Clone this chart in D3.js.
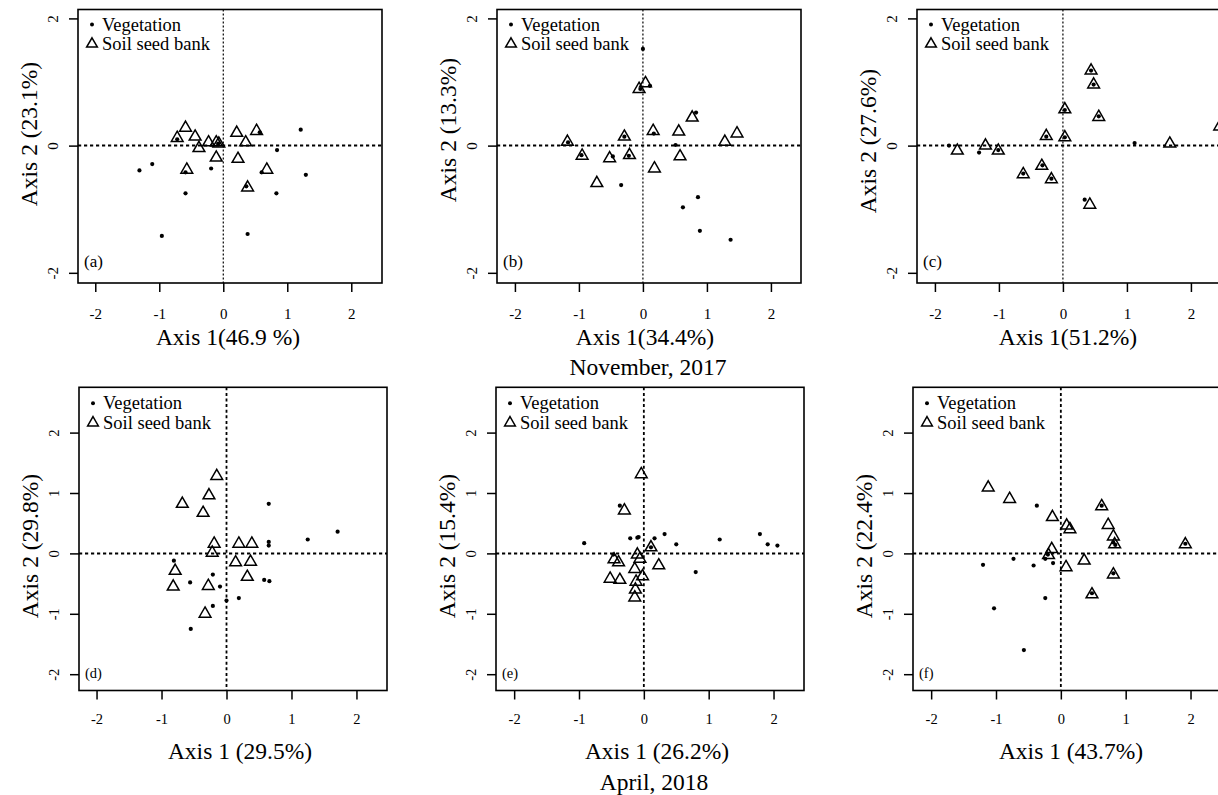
<!DOCTYPE html>
<html>
<head>
<meta charset="utf-8">
<script src="https://cdn.jsdelivr.net/npm/d3@7"></script>
<style>
html,body{margin:0;padding:0;background:#fff;}
svg{display:block;}
</style>
</head>
<body>
<svg id="chart" width="1218" height="795"></svg>
<script>
// ---------------- data ----------------
const vegA  = [[1.21,0.25],[0.84,-0.07],[1.29,-0.46],[0.60,-0.42],[0.83,-0.75],[0.36,-0.64],[0.38,-1.39],[-0.96,-1.42],[-1.31,-0.39],[-1.11,-0.29],[-0.59,-0.75],[-0.59,-0.42],[-0.19,-0.36],[-0.72,0.10],[0.57,0.21],[-0.08,0.03]];
const seedA = [[-0.59,0.28],[-0.72,0.12],[-0.44,0.14],[-0.38,-0.04],[-0.23,0.05],[-0.11,0.05],[-0.07,0.03],[-0.11,-0.19],[0.21,0.20],[0.52,0.23],[0.35,0.05],[0.23,-0.21],[0.68,-0.38],[0.38,-0.66],[-0.57,-0.38]];

const vegB  = [[0.0,1.52],[0.11,0.94],[0.83,0.52],[0.51,0.01],[0.86,-0.81],[0.625,-0.97],[0.89,-1.34],[1.37,-1.48],[-0.34,-0.62],[-0.47,-0.17],[-0.96,-0.15],[-1.17,0.05],[-0.29,0.14],[-0.22,-0.16],[0.17,0.19],[-0.04,0.89]];
const seedB = [[-1.18,0.06],[-0.95,-0.16],[-0.52,-0.20],[-0.72,-0.59],[-0.29,0.14],[-0.21,-0.15],[-0.06,0.89],[0.04,0.98],[0.16,0.23],[0.18,-0.36],[0.56,0.22],[0.58,-0.17],[0.77,0.44],[1.28,0.06],[1.47,0.19]];

const vegC  = [[-1.78,0.0],[-1.31,-0.11],[-1.01,-0.07],[1.12,0.04],[0.34,-0.85],[0.44,1.18],[0.48,0.96],[0.56,0.46],[0.03,0.56],[0.03,0.13],[-0.26,0.14],[-0.32,-0.31],[-0.62,-0.44],[-0.18,-0.52],[2.46,0.31]];
const seedC = [[-1.65,-0.08],[-1.21,0.0],[-1.01,-0.08],[-0.62,-0.45],[-0.33,-0.32],[-0.18,-0.53],[-0.26,0.15],[0.03,0.13],[0.03,0.57],[0.44,1.18],[0.48,0.96],[0.56,0.45],[0.42,-0.93],[1.67,0.03],[2.45,0.30]];

const vegD  = [[0.65,0.82],[0.65,0.19],[0.65,0.13],[1.25,0.23],[1.71,0.36],[0.58,-0.44],[0.66,-0.46],[0.19,-0.74],[0.0,-0.78],[-0.21,-0.87],[-0.10,-0.55],[-0.21,-0.35],[-0.56,-0.48],[-0.81,-0.12],[-0.55,-1.25]];
const seedD = [[-0.15,1.28],[-0.27,0.96],[-0.68,0.82],[-0.36,0.67],[-0.19,0.16],[-0.22,0.01],[0.19,0.16],[0.39,0.16],[0.14,-0.15],[0.37,-0.14],[0.32,-0.39],[-0.79,-0.29],[-0.82,-0.55],[-0.28,-0.54],[-0.33,-1.0]];

const vegE  = [[-0.92,0.17],[-0.21,0.25],[-0.10,0.26],[-0.08,0.27],[0.165,0.25],[0.32,0.32],[0.50,0.15],[1.17,0.23],[1.79,0.32],[1.91,0.15],[2.06,0.13],[0.80,-0.31],[-0.37,0.79],[-0.47,-0.02],[0.11,0.10]];
const seedE = [[-0.04,1.31],[-0.30,0.71],[-0.46,-0.10],[-0.39,-0.15],[-0.52,-0.42],[-0.37,-0.44],[-0.10,-0.02],[-0.06,-0.09],[0.11,0.10],[0.23,-0.20],[-0.14,-0.26],[-0.02,-0.38],[-0.12,-0.47],[-0.13,-0.60],[-0.14,-0.73]];

const vegF  = [[-0.37,0.79],[-1.20,-0.19],[-0.73,-0.09],[-0.42,-0.20],[-0.24,-0.09],[-0.12,-0.16],[-0.24,-0.74],[-1.03,-0.91],[-0.57,-1.60],[-0.20,-0.02],[0.63,0.79],[0.81,0.18],[0.84,0.14],[0.48,-0.66],[0.81,-0.33],[1.92,0.16]];
const seedF = [[-1.12,1.09],[-0.79,0.90],[-0.13,0.60],[-0.14,0.07],[-0.19,-0.03],[0.09,0.46],[0.14,0.40],[0.08,-0.23],[0.36,-0.12],[0.63,0.78],[0.73,0.47],[0.81,0.28],[0.83,0.15],[0.81,-0.35],[0.48,-0.68],[1.92,0.15]];

const xTitles = ["Axis 1(46.9 %)","Axis 1(34.4%)","Axis 1(51.2%)","Axis 1 (29.5%)","Axis 1 (26.2%)","Axis 1 (43.7%)"];
const yTitles = ["Axis 2 (23.1%)","Axis 2 (13.3%)","Axis 2 (27.6%)","Axis 2 (29.8%)","Axis 2 (15.4%)","Axis 2 (22.4%)"];
const panelLetters = ["(a)","(b)","(c)","(d)","(e)","(f)"];
const legendLabels = ["Vegetation","Soil seed bank"];
const captions = ["November, 2017","April, 2018"];
const xTicks = [-2,-1,0,1,2];
const yTicksTop = [-2,0,2];
const yTicksBottom = [-2,-1,0,1,2];

// ---------------- layout ----------------
const FONT = "'Liberation Serif','Times New Roman',Times,serif";
const svg = d3.select("#chart");
svg.append("rect").attr("width",1218).attr("height",795).attr("fill","#fff");

const rowTop = {top:9.5, bottom:283, ydom:[-2.16,2.14], yticks:yTicksTop, tickFont:15, xTickOff:36, letterDy:-16, legendDy:15, vdash:"2,2", vw:1.2};
const rowBot = {top:387.3, bottom:690.5, ydom:[-2.27,2.75], yticks:yTicksBottom, tickFont:14.5, xTickOff:33, letterDy:-13, legendDy:16, vdash:"3,2.6", vw:1.8};

const panels = [
  {row:rowTop, left:78,  width:304, xdom:[-2.27,2.48], veg:vegA, seed:seedA, ytc:134, xtc:228, cap:null},
  {row:rowTop, left:497, width:304, xdom:[-2.28,2.47], veg:vegB, seed:seedB, ytc:130, xtc:645, cap:0},
  {row:rowTop, left:917, width:304, xdom:[-2.28,2.47], veg:vegC, seed:seedC, ytc:141, xtc:1068, cap:null},
  {row:rowBot, left:79,  width:308, xdom:[-2.27,2.47], veg:vegD, seed:seedD, ytc:546, xtc:240, cap:null},
  {row:rowBot, left:496, width:308, xdom:[-2.28,2.47], veg:vegE, seed:seedE, ytc:546, xtc:657, cap:1},
  {row:rowBot, left:913, width:308, xdom:[-2.28,2.47], veg:vegF, seed:seedF, ytc:546, xtc:1071, cap:null}
];

const tri = d3.symbol().type(d3.symbolTriangle).size(60);
const triLegend = d3.symbol().type(d3.symbolTriangle).size(50);

panels.forEach((p,i) => {
  const r = p.row;
  const x = d3.scaleLinear().domain(p.xdom).range([p.left, p.left + p.width]);
  const y = d3.scaleLinear().domain(r.ydom).range([r.bottom, r.top]);
  const g = svg.append("g");

  // reference lines at 0
  g.append("line").attr("x1",x(0)).attr("x2",x(0)).attr("y1",r.top).attr("y2",r.bottom)
    .attr("stroke","#000").attr("stroke-width",r.vw).attr("stroke-dasharray",r.vdash);
  g.append("line").attr("x1",p.left).attr("x2",p.left+p.width).attr("y1",y(0)).attr("y2",y(0))
    .attr("stroke","#000").attr("stroke-width",2).attr("stroke-dasharray","3.2,2.8");

  // points
  g.selectAll(".seed").data(p.seed).enter().append("path")
    .attr("d", tri).attr("transform", d => `translate(${x(d[0])},${y(d[1])})`)
    .attr("fill","none").attr("stroke","#000").attr("stroke-width",1.5);
  g.selectAll(".veg").data(p.veg).enter().append("circle")
    .attr("cx", d => x(d[0])).attr("cy", d => y(d[1])).attr("r",2.1).attr("fill","#000");

  // box
  g.append("rect").attr("x",p.left).attr("y",r.top).attr("width",p.width).attr("height",r.bottom-r.top)
    .attr("fill","none").attr("stroke","#000").attr("stroke-width",1.6);

  // x axis
  const xa = g.append("g").attr("transform",`translate(0,${r.bottom})`)
    .call(d3.axisBottom(x).tickValues(xTicks).tickSize(9).tickFormat(d => String(d)));
  xa.select(".domain").remove();
  xa.selectAll("line").attr("stroke","#000").attr("stroke-width",1.5);
  xa.selectAll("text").attr("y", r.xTickOff).attr("dy",0)
    .attr("font-family",FONT).attr("font-size",r.tickFont).attr("fill","#000");

  // y axis (rotated labels, R style)
  const ya = g.append("g").attr("transform",`translate(${p.left},0)`)
    .call(d3.axisLeft(y).tickValues(r.yticks).tickSize(9).tickFormat(d => String(d)));
  ya.select(".domain").remove();
  ya.selectAll("line").attr("stroke","#000").attr("stroke-width",1.5);
  ya.selectAll("text").attr("x",0).attr("dy",0).attr("text-anchor","middle")
    .attr("transform","translate(-20,0) rotate(-90)")
    .attr("font-family",FONT).attr("font-size",r.tickFont).attr("fill","#000");

  // titles
  g.append("text").attr("x",p.xtc).attr("y", i < 3 ? 345 : 759).attr("text-anchor","middle")
    .attr("font-family",FONT).attr("font-size",23.5).attr("fill","#000").text(xTitles[i]);
  g.append("text").attr("transform",`translate(${p.left-41},${p.ytc}) rotate(-90)`).attr("text-anchor","middle")
    .attr("font-family",FONT).attr("font-size",23.5).attr("fill","#000").text(yTitles[i]);

  // panel letter
  g.append("text").attr("x",p.left+6).attr("y",r.bottom + r.letterDy)
    .attr("font-family",FONT).attr("font-size", i < 3 ? 17 : 14.5).attr("fill","#000").text(panelLetters[i]);

  // legend
  const lx = p.left + 14, ly = r.top + r.legendDy;
  g.append("circle").attr("cx",lx).attr("cy",ly).attr("r",2).attr("fill","#000");
  g.append("path").attr("d",triLegend).attr("transform",`translate(${lx},${ly+19.5})`)
    .attr("fill","none").attr("stroke","#000").attr("stroke-width",1.5);
  g.append("text").attr("x",lx+10).attr("y",ly+6).attr("font-family",FONT).attr("font-size",18.5)
    .attr("fill","#000").text(legendLabels[0]);
  g.append("text").attr("x",lx+10).attr("y",ly+25.5).attr("font-family",FONT).attr("font-size",18.5)
    .attr("fill","#000").text(legendLabels[1]);

  if (p.cap !== null) {
    g.append("text").attr("x", i < 3 ? 648 : 654).attr("y", i < 3 ? 375 : 790).attr("text-anchor","middle")
      .attr("font-family",FONT).attr("font-size",23.5).attr("fill","#000").text(captions[p.cap]);
  }
});
</script>
</body>
</html>
